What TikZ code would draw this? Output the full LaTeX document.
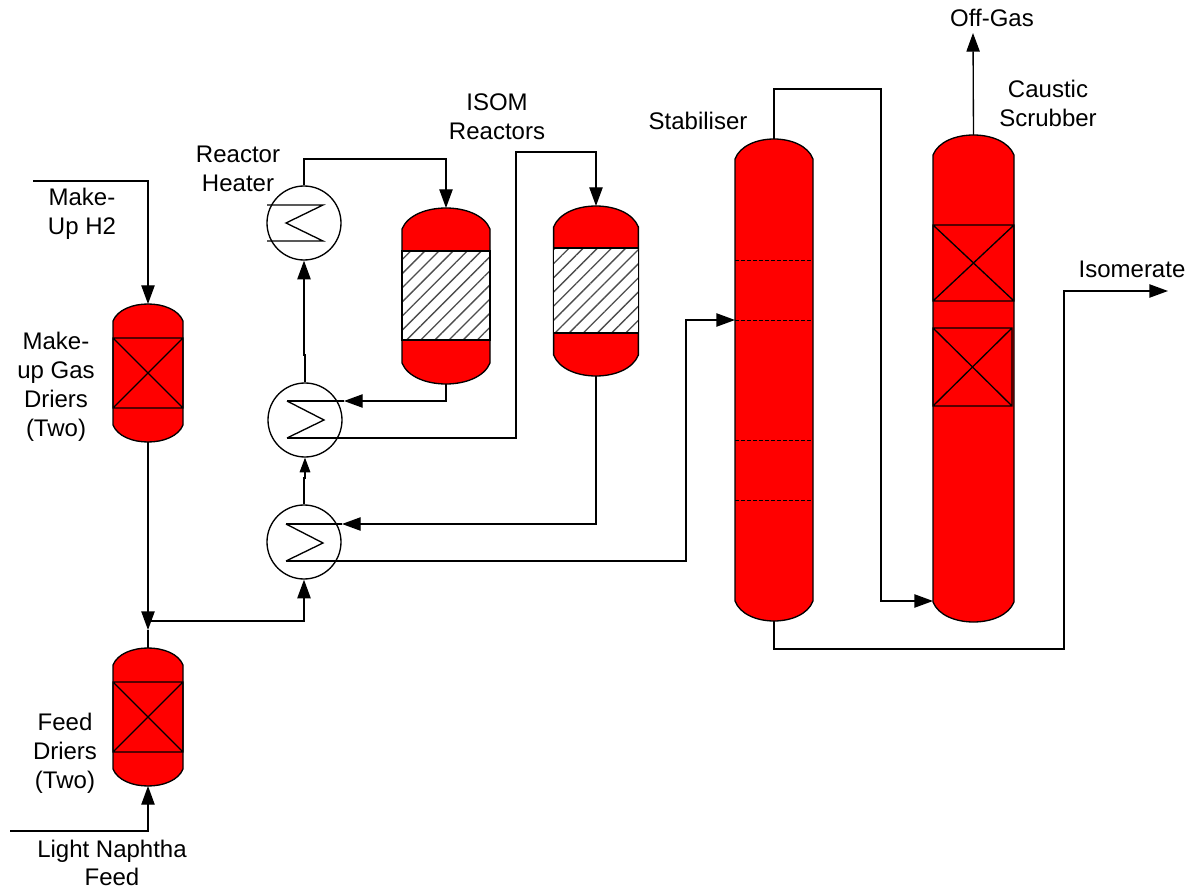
\documentclass[tikz,border=0pt]{standalone}
\usepackage{fontspec}
\setmainfont{Liberation Sans}
\usetikzlibrary{arrows.meta,patterns.meta}

\tikzset{
	pipe/.style={line width=1pt,-{Triangle[length=14pt,width=10pt]}},
	shortpipe/.style={line width=0.8pt,-{Triangle[length=11pt,width=8pt]}},
	line/.style={line width=1pt},
	hx/.style={circle,draw,line width=1pt,minimum size=55.5pt,inner sep=0pt},
	label/.style={align=center,inner sep=0pt,font=\fontsize{18}{21.75}\selectfont},
	vesselbody/.style={draw,line width=1pt,fill=red},
	bed/.style={draw,line width=1pt,fill=white},
	hatch/.style={pattern={Lines[angle=45,distance=7.5pt,line width=1pt]},pattern color=black!70},
	tray/.style={line width=0.7pt,dashed,dash pattern=on 3pt off 1.5pt},
}

% name, left, right, top, bottom, cap height
\newcommand{\vessel}[6]{
	\pgfmathsetmacro\vsTop{#4+#6}
	\pgfmathsetmacro\vsBot{#5-#6}
	\pgfmathsetmacro\vsUp{#4-#6/3}
	\pgfmathsetmacro\vsDown{#5+#6/3}
	\pgfmathsetmacro\vsA{#2+0.13*(#3-#2)}
	\pgfmathsetmacro\vsB{#3-0.13*(#3-#2)}
	\pgfmathsetmacro\vsMid{(#2+#3)/2}
	\path[vesselbody] (#2,\vsTop) .. controls (\vsA,\vsUp) and (\vsB,\vsUp) .. (#3,\vsTop) -- (#3,\vsBot) .. controls (\vsB,\vsDown) and (\vsA,\vsDown) .. (#2,\vsBot) -- cycle;
	\coordinate (#1-top) at (\vsMid,#4);
	\coordinate (#1-bot) at (\vsMid,#5);
}

\begin{document}
\begin{tikzpicture}[x=0.75pt,y=-0.75pt]
	\useasboundingbox (0,0) rectangle (1190,888);

	% vessels
	\vessel{dryA}{113}{183}{304}{442}{17}
	\vessel{dryB}{113}{183}{648}{786}{17}
	\vessel{reacA}{402}{490}{208}{384}{21}
	\vessel{reacB}{553.6}{638.4}{206}{376}{21}
	\vessel{stab}{735}{813}{139}{621}{20}
	\vessel{scrub}{933}{1014}{135}{622}{20}

	% packed beds of the driers and the scrubber
	\draw[line] (113,338) rectangle (183,408) (113,338)--(183,408) (113,408)--(183,338);
	\draw[line] (113,682) rectangle (183,752) (113,682)--(183,752) (113,752)--(183,682);
	\draw[line] (933,225) rectangle (1014,301) (933,225)--(1014,301) (933,301)--(1014,225);
	\draw[line] (933,328) rectangle (1012,406) (933,328)--(1012,406) (933,406)--(1012,328);

	% catalyst beds
	\draw[bed] (402,251) rectangle (490,340);
	\fill[hatch] (402,251) rectangle (490,340);
	\draw[bed,fill=none] (402,251) rectangle (490,340);
	\draw[bed] (553.6,248) rectangle (638.4,333);
	\fill[hatch] (553.6,248) rectangle (638.4,333);
	\draw[bed,fill=none] (553.6,248) rectangle (638.4,333);

	% trays
	\foreach \y in {260,320,440,500}
		\draw[tray] (735,\y)--(813,\y);

	% exchangers
	\node[hx] (heater) at (304,223) {};
	\node[hx] (hxB) at (305,420) {};
	\node[hx] (hxC) at (304,542) {};
	\draw[line] (267,205)--(323,205)--(286,223)--(323,241)--(267,241);
	\coordinate (hxB-hot) at (287,401);
	\coordinate (hxB-out) at (287,438);
	\coordinate (hxC-hot) at (286,524);
	\coordinate (hxC-out) at (286,561);
	\draw[line] (hxB-hot)--(324,420)--(hxB-out);
	\draw[line] (hxC-hot)--(323,543)--(hxC-out);

	% free ends and bends
	\coordinate (h2-in) at (33,181);
	\coordinate (feed-in) at (10,831);
	\coordinate (join) at (148,621);
	\coordinate (join-tip) at (148,630);
	\coordinate (tipB) at (344,401);
	\coordinate (tipC) at (342,524);
	\coordinate (stab-in) at (735,320);
	\coordinate (scrub-in) at (933,601);
	\coordinate (gas-out) at (973,33);
	\coordinate (iso-out) at (1168,291);

	% lines
	\draw[pipe] (h2-in)--(148,181)--(dryA-top);
	\draw[pipe] (dryA-bot)--(join-tip);
	\draw[line] (join-tip)--(dryB-top);
	\draw[pipe] (join)-|(hxC.south);
	\draw[pipe] (feed-in)-|(dryB-bot);
	\draw[shortpipe] (hxC.north)--(304,478)--(305,478)--(hxB.south);
	\draw[pipe] (hxB.north)--(305,355)--(304,355)--(heater.south);
	\draw[pipe] (heater.north)--(304,159)-|(reacA-top);
	\draw[pipe] (reacA-bot)|-(tipB);
	\draw[line] (tipB)--(hxB-hot);
	\draw[pipe] (hxB-out)-|(516,152)-|(reacB-top);
	\draw[pipe] (reacB-bot)|-(tipC);
	\draw[line] (tipC)--(hxC-hot);
	\draw[pipe] (hxC-out)-|(686,320)--(stab-in);
	\draw[pipe] (stab-top)|-(881,89)|-(scrub-in);
	\draw[pipe] (scrub-top)--(gas-out);
	\draw[pipe] (stab-bot)|-(1064,649)|-(iso-out);

	% labels
	\node[label] (gas) at (992,18) {Off-Gas};
	\node[label] (scrubber) at (1048,103) {Caustic\\Scrubber};
	\node[label] (isomerate) at (1132,269) {Isomerate};
	\node[label] (stabiliser) at (698,121) {Stabiliser};
	\node[label] (isom) at (497,117) {ISOM\\Reactors};
	\node[label] (reheater) at (238,169) {Reactor\\Heater};
	\node[label] (makeup) at (82,214) {Make-\\Up H2};
	\node[label] (gasdriers) at (56,387) {Make-\\up Gas\\Driers\\(Two)};
	\node[label] (feeddriers) at (65,753) {Feed\\Driers\\(Two)};
	\node[label] (naphtha) at (112,863) {Light Naphtha\\[-1pt]Feed};
\end{tikzpicture}
\end{document}
